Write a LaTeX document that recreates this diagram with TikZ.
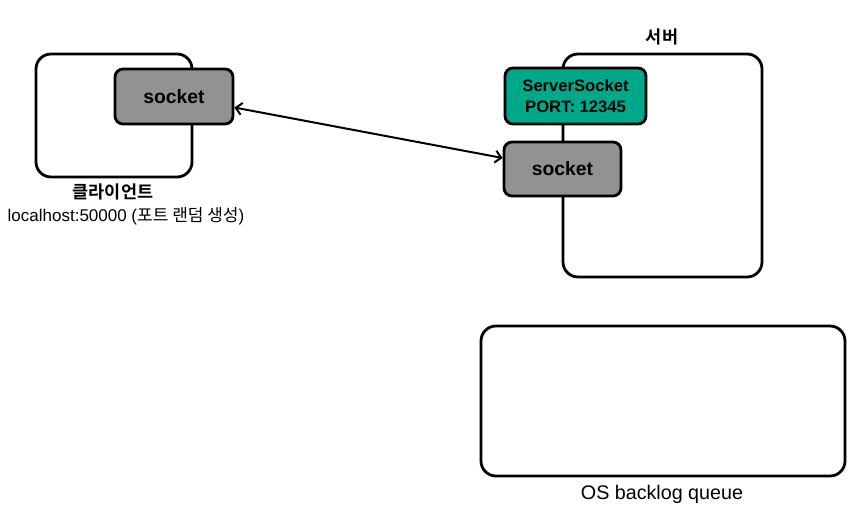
\documentclass[tikz,border=0pt]{standalone}
\usepackage{fontspec}
\setmainfont{Liberation Sans}
\newfontfamily\kr{Noto Sans CJK KR}[BoldFont={Noto Sans CJK KR Bold}]
\usetikzlibrary{arrows.meta}
\definecolor{sockgray}{RGB}{146,146,146}
\definecolor{srvteal}{RGB}{0,168,138}
\tikzset{
  container/.style={draw=black, line width=2.8pt, rounded corners=15pt, fill=white, inner sep=0pt},
  sockbox/.style={draw=black, line width=2.8pt, rounded corners=8pt, fill=sockgray, inner sep=0pt, align=center, font=\fontsize{19.3}{21}\selectfont\bfseries},
  srvsock/.style={sockbox, fill=srvteal, font=\fontsize{16.6}{21}\selectfont\bfseries},
  lbl/.style={inner sep=0pt, font=\fontsize{17.5}{20}\selectfont},
  link/.style={line width=2pt, {Straight Barb[length=6pt,width=12pt]}-{Straight Barb[length=6pt,width=12pt]}}
}
\begin{document}
\begin{tikzpicture}[x=1pt,y=-1pt]
\useasboundingbox (0,0) rectangle (867,507);
% client
\node[container, minimum width=156pt, minimum height=123pt] (cbox) at (114,115.5) {};
\node[sockbox, minimum width=118pt, minimum height=55pt] (cs) at (174,96.5) {socket};
\node[lbl, font=\fontsize{17.5}{20}\selectfont\kr\bfseries] (clbl) at (113,192) {클라이언트};
\node[lbl, font=\fontsize{17}{20}\selectfont] (caddr) at (126,216) {localhost:50000 ({\kr 포트 랜덤 생성})};
% server
\node[container, minimum width=199pt, minimum height=223pt] (sbox) at (662.5,165.5) {};
\node[lbl, font=\fontsize{17.5}{20}\selectfont\kr\bfseries] (slbl) at (662,37) {서버};
\node[srvsock, minimum width=141pt, minimum height=56pt] (ssock) at (575.5,96) {ServerSocket\\PORT: 12345};
\node[sockbox, minimum width=117pt, minimum height=54pt] (ss) at (562.5,169) {socket};
% backlog
\node[container, minimum width=364pt, minimum height=150pt] (bq) at (663,401) {};
\node[lbl, font=\fontsize{19.7}{20}\selectfont] (bqlbl) at (662,494) {OS backlog queue};
% connection
\draw[link] ([yshift=-11pt]cs.east) -- ([yshift=11pt]ss.west);
\end{tikzpicture}
\end{document}
